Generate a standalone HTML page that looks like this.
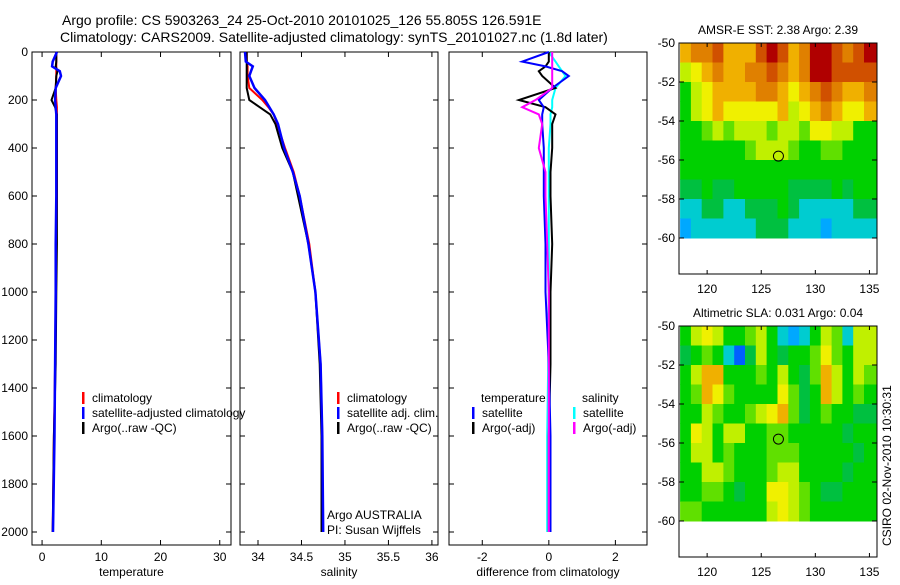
<!DOCTYPE html>
<html><head><meta charset="utf-8"><style>
body{margin:0;background:#fff;width:900px;height:580px;overflow:hidden}
svg text{font-family:"Liberation Sans",sans-serif;fill:#000}
</style></head><body>
<svg id="s" width="900" height="580" xmlns="http://www.w3.org/2000/svg">
<text x="62" y="25" font-size="14">Argo profile: CS 5903263_24 25-Oct-2010 20101025_126 55.805S 126.591E</text>
<text x="60" y="42" font-size="14">Climatology: CARS2009. Satellite-adjusted climatology: synTS_20101027.nc (1.8d later)</text>
<text transform="translate(891,546) rotate(-90)" font-size="12">CSIRO 02-Nov-2010 10:30:31</text>
</svg>
<script>
// depth grid
const depths=[0,40,60,80,100,150,200,230,260,300,400,500,600,800,1000,1300,1600,2000];
const tempClim=[2.4,2.4,2.4,2.4,2.4,2.3,2.4,2.5,2.5,2.5,2.5,2.5,2.5,2.4,2.3,2.2,2.0,1.8];
const tempSat=[2.5,1.8,1.7,3.0,3.2,2.3,2.2,2.3,2.4,2.4,2.4,2.4,2.4,2.3,2.3,2.2,2.1,1.85];
const tempArgo=[2.4,2.4,2.3,2.6,2.4,2.3,1.6,2.2,2.5,2.5,2.5,2.5,2.5,2.5,2.4,2.3,2.0,1.8];
const salClim=[33.87,33.87,33.88,33.88,33.88,33.9,34.05,34.12,34.18,34.22,34.31,34.41,34.48,34.59,34.66,34.72,34.74,34.74];
const salSat=[33.85,33.86,33.94,33.92,33.9,33.96,34.08,34.13,34.18,34.23,34.3,34.4,34.48,34.58,34.66,34.72,34.74,34.75];
const salArgo=[33.87,33.87,33.87,33.87,33.87,33.87,33.9,34.02,34.14,34.2,34.28,34.4,34.46,34.58,34.66,34.71,34.73,34.73];
const dTempSat=[0,-0.8,-0.1,0.4,0.6,0.1,-0.3,-0.15,-0.2,-0.2,-0.15,-0.15,-0.15,-0.1,-0.1,0,0.05,0.05];
const dTempArgo=[0,0,-0.1,-0.3,-0.2,0.2,-0.9,-0.1,0.2,0.1,0.1,0.05,0.05,0.1,0.05,0.05,0,0];
const dSalSat=[0,0.2,0.3,0.4,0.5,0.2,0.1,0.1,0.05,0.05,0,0,0,0,0,-0.02,-0.05,-0.05];
const dSalArgo=[0.1,0.1,0.1,0.1,0.1,0.1,-0.4,-0.8,-0.3,-0.2,-0.3,-0.1,-0.1,-0.05,0,0,0,0];
const depthTicks=[0,200,400,600,800,1000,1200,1400,1600,1800,2000];
const tempTicks=[0,10,20,30];
const salTicks=[34,34.5,35,35.5,36];
const diffTicks=[-2,0,2];
const latTicks=[-50,-52,-54,-56,-58,-60];
const lonTicks=[120,125,130,135];
// map grids: rows lat -50..-59, cols lon 117.5..134.5 (colour index 0-11)
const sstGrid=[
[8,9,9,10,8,8,8,10,11,10,8,9,11,11,10,9,10,11],
[6,7,8,9,8,8,9,9,10,9,8,9,11,11,10,10,10,10],
[4,6,7,8,8,8,8,9,9,8,7,8,9,10,9,8,8,9],
[4,6,7,8,7,7,7,7,7,8,6,7,8,9,8,7,7,8],
[4,4,5,6,5,6,6,6,5,6,6,5,7,7,6,6,4,4],
[4,4,4,4,4,4,5,6,6,6,5,4,4,5,5,4,4,4],
[4,4,4,4,4,4,4,4,4,4,4,4,4,4,4,4,4,4],
[3,3,4,3,3,4,4,4,4,4,3,3,3,3,4,3,4,4],
[2,2,3,3,2,2,3,3,3,4,3,2,2,2,2,2,3,3],
[1,2,2,2,2,2,2,3,3,3,2,2,2,1,2,2,2,2]];
const slaGrid=[
[4,6,7,6,4,4,5,6,4,2,1,2,4,6,5,2,6,6],
[3,4,5,4,2,0,3,6,4,3,4,4,5,7,5,4,6,6],
[4,6,8,8,4,4,4,5,4,6,4,3,5,8,6,4,6,5],
[4,5,8,7,5,4,4,4,4,7,5,3,4,8,6,4,5,4],
[4,4,6,5,4,4,5,6,7,8,5,3,4,5,4,4,3,3],
[4,7,6,4,6,6,4,4,5,5,4,4,4,4,4,3,4,4],
[4,6,6,4,5,4,4,4,5,5,5,4,4,4,4,4,3,4],
[4,4,6,6,5,4,4,4,5,6,6,4,4,4,4,3,4,4],
[4,4,5,5,4,3,4,4,7,7,6,5,4,3,3,4,4,4],
[5,5,4,4,4,4,4,4,6,7,6,5,4,4,4,4,4,4]];
const argoLon=126.59, argoLat=-55.8;
const ramp=['#0060ff','#00a8ff','#00ccd0','#00c040','#00d000','#60e000','#c0f000','#f0f000','#f0b000','#e08000','#d05000','#b00000'];

const S=document.getElementById('s'),NS='http://www.w3.org/2000/svg';
function mk(t,a,p){const e=document.createElementNS(NS,t);for(const k in a)e.setAttribute(k,a[k]);(p||S).appendChild(e);return e;}
const yD=d=>52+d*0.24;
function panel(name,x0,x1,xmin,xmax,xt,label){
  const g=mk('g',{});
  
  
  const sx=v=>x0+(v-xmin)/(xmax-xmin)*(x1-x0);
  const r=mk('rect',{x:x0,y:52,width:x1-x0,height:493,fill:'none',stroke:'#000'},g);
  
  
  xt.forEach(v=>{const x=sx(v);mk('line',{x1:x,x2:x,y1:545,y2:540,stroke:'#000'},g);mk('line',{x1:x,x2:x,y1:52,y2:57,stroke:'#000'},g);
    const t=mk('text',{x:x,y:561,'font-size':12,'text-anchor':'middle'},g);t.textContent=v;
    
    });
  depthTicks.forEach(d=>{const y=yD(d);mk('line',{x1:x0,x2:x0+5,y1:y,y2:y,stroke:'#000'},g);mk('line',{x1:x1,x2:x1-5,y1:y,y2:y,stroke:'#000'},g);});
  const t=mk('text',{x:(x0+x1)/2,y:576,'font-size':12,'text-anchor':'middle'},g);t.textContent=label;
  
  
  return {g,sx};
}
function line(p,vals,col,w,name){
  const pts=vals.map((v,i)=>p.sx(v).toFixed(1)+','+yD(depths[i]).toFixed(1)).join(' ');
  const l=mk('polyline',{points:pts,fill:'none',stroke:col,'stroke-width':w},p.g);
  
  
}
function legend(g,x,y,items){items.forEach((it,i)=>{const yy=y+i*15;
  if(it[1])mk('rect',{x:x,y:yy-10,width:2.5,height:12,fill:it[1]},g);
  const t=mk('text',{x:x+(it[1]?10:0),y:yy,'font-size':12},g);t.textContent=it[0];
  
  });}
depthTicks.forEach(d=>{const t=mk('text',{x:28,y:yD(d)+4,'font-size':12,'text-anchor':'end'});t.textContent=d;
  
  });
const p1=panel('temperature-panel',32,231,-1.7,31.9,tempTicks,'temperature');
line(p1,tempClim,'#f00',2,'temp-climatology-line');line(p1,tempArgo,'#000',2,'temp-argo-line');line(p1,tempSat,'#00f',2.5,'temp-satellite-line');
legend(p1.g,82,402,[['climatology','#f00'],['satellite-adjusted climatology','#00f'],['Argo(..raw -QC)','#000']]);
const p2=panel('salinity-panel',240,438,33.793,36.07,salTicks,'salinity');
line(p2,salClim,'#f00',2,'sal-climatology-line');line(p2,salArgo,'#000',2,'sal-argo-line');line(p2,salSat,'#00f',2.5,'sal-satellite-line');
legend(p2.g,337,402,[['climatology','#f00'],['satellite adj. clim.','#00f'],['Argo(..raw -QC)','#000']]);
legend(p2.g,327,519,[['Argo AUSTRALIA',null],['PI: Susan Wijffels',null]]);
const p3=panel('difference-panel',449,647,-3.0,2.95,diffTicks,'difference from climatology');
line(p3,dSalSat,'#0ff',2,'dsal-satellite-line');line(p3,dTempArgo,'#000',2,'dtemp-argo-line');line(p3,dTempSat,'#00f',2,'dtemp-satellite-line');line(p3,dSalArgo,'#f0f',2,'dsal-argo-line');
legend(p3.g,481,402,[['temperature',null]]);legend(p3.g,472,417,[['satellite','#00f'],['Argo(-adj)','#000']]);
legend(p3.g,582,402,[['salinity',null]]);legend(p3.g,573,417,[['satellite','#0ff'],['Argo(-adj)','#f0f']]);
function map(name,top,grid,title){
  const g=mk('g',{});
  
  
  const sx=l=>679+(l-117.4)*10.82, sy=la=>top+(-50-la)*19.5;
  grid.forEach((row,r)=>row.forEach((v,c)=>{const x=sx(117.5+c);const c2=mk('rect',{x:x.toFixed(1),y:sy(-50-r).toFixed(1),width:(c==17?877-x:11.3).toFixed(1),height:20,fill:ramp[v]},g);
    
    }));
  mk('rect',{x:679,y:top,width:198,height:231,fill:'none',stroke:'#000'},g);
  const t=mk('text',{x:778,y:top-9,'font-size':12,'text-anchor':'middle'},g);t.textContent=title;
  
  
  latTicks.forEach(la=>{const y=sy(la);mk('line',{x1:679,x2:684,y1:y,y2:y,stroke:'#000'},g);mk('line',{x1:877,x2:872,y1:y,y2:y,stroke:'#000'},g);
    const tt=mk('text',{x:675,y:y+4,'font-size':12,'text-anchor':'end'},g);tt.textContent=la;
    
    });
  lonTicks.forEach(lo=>{const x=sx(lo);mk('line',{x1:x,x2:x,y1:top,y2:top+4,stroke:'#000'},g);mk('line',{x1:x,x2:x,y1:top+231,y2:top+227,stroke:'#000'},g);
    const tt=mk('text',{x:x,y:top+250,'font-size':12,'text-anchor':'middle'},g);tt.textContent=lo;
    
    });
  const c=mk('circle',{cx:sx(argoLon),cy:sy(argoLat),r:5,fill:'none',stroke:'#000'},g);
  
  
}
map('sst-map',43,sstGrid,'AMSR-E SST: 2.38 Argo: 2.39');
map('sla-map',326,slaGrid,'Altimetric SLA: 0.031 Argo: 0.04');
</script>
</body></html>
